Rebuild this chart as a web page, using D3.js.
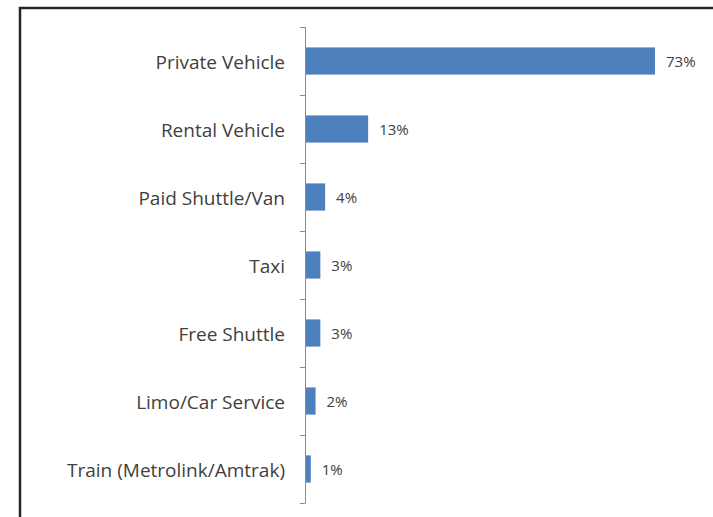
<!DOCTYPE html>
<html>
<head>
<meta charset="utf-8">
<script src="https://cdn.jsdelivr.net/npm/d3@7"></script>
<style>
  html, body { margin: 0; padding: 0; background: #fff; }
  svg { display: block; }
</style>
</head>
<body>
<svg id="chart" width="713" height="517"></svg>
<script>
// Transportation mode shares (percent of respondents)
const categories = [
  "Private Vehicle",
  "Rental Vehicle",
  "Paid Shuttle/Van",
  "Taxi",
  "Free Shuttle",
  "Limo/Car Service",
  "Train (Metrolink/Amtrak)"
];
const values = [73, 13, 4, 3, 3, 2, 1];
const valueLabels = ["73%", "13%", "4%", "3%", "3%", "2%", "1%"];

(function draw() {
  const svg = d3.select("#chart");
  const W = 713, H = 517;

  // Outer frame (continues past the right and bottom edges)
  svg.append("rect")
    .attr("x", 20).attr("y", 8)
    .attr("width", W + 20).attr("height", H + 20)
    .attr("fill", "#fff")
    .attr("stroke", "#262626")
    .attr("stroke-width", 2.5);

  const axisX = 306;
  const plotTop = 27, plotBottom = 503;

  const y = d3.scaleBand()
    .domain(categories)
    .range([plotTop, plotBottom])
    .paddingInner(0.6)
    .paddingOuter(0.3);

  const x = d3.scaleLinear()
    .domain([0, 73])
    .range([axisX, 655]);

  const data = categories.map((c, i) => ({ c, v: values[i], label: valueLabels[i] }));

  // Bars
  svg.append("g").selectAll("rect")
    .data(data)
    .join("rect")
    .attr("x", x(0))
    .attr("y", d => y(d.c))
    .attr("width", d => x(d.v) - x(0))
    .attr("height", y.bandwidth())
    .attr("fill", "#4d80bd");

  // Category axis: vertical line with boundary ticks pointing left
  const step = (plotBottom - plotTop) / categories.length;
  const tickPos = d3.range(categories.length + 1).map(i => plotTop + i * step);
  const axisG = svg.append("g").attr("stroke", "#8c8c8c").attr("stroke-width", 1);
  axisG.append("line")
    .attr("x1", axisX - 0.5).attr("x2", axisX - 0.5)
    .attr("y1", plotTop).attr("y2", plotBottom);
  axisG.selectAll("line.tick")
    .data(tickPos)
    .join("line")
    .attr("class", "tick")
    .attr("x1", axisX - 6).attr("x2", axisX - 0.5)
    .attr("y1", d => Math.round(d) + 0.5).attr("y2", d => Math.round(d) + 0.5);

  // Category labels
  svg.append("g").selectAll("text")
    .data(data)
    .join("text")
    .attr("x", axisX - 21)
    .attr("y", d => y(d.c) + y.bandwidth() / 2 + 1)
    .attr("dy", "0.35em")
    .attr("text-anchor", "end")
    .attr("font-family", "'Open Sans', Lato, sans-serif")
    .attr("font-size", 19)
    .attr("fill", "#404040")
    .text(d => d.c);

  // Value labels
  svg.append("g").selectAll("text")
    .data(data)
    .join("text")
    .attr("x", d => x(d.v) + 11)
    .attr("y", d => y(d.c) + y.bandwidth() / 2 + 1)
    .attr("dy", "0.35em")
    .attr("font-family", "'Open Sans', Lato, sans-serif")
    .attr("font-size", 15)
    .attr("fill", "#404040")
    .text(d => d.label);
})();
</script>
</body>
</html>
